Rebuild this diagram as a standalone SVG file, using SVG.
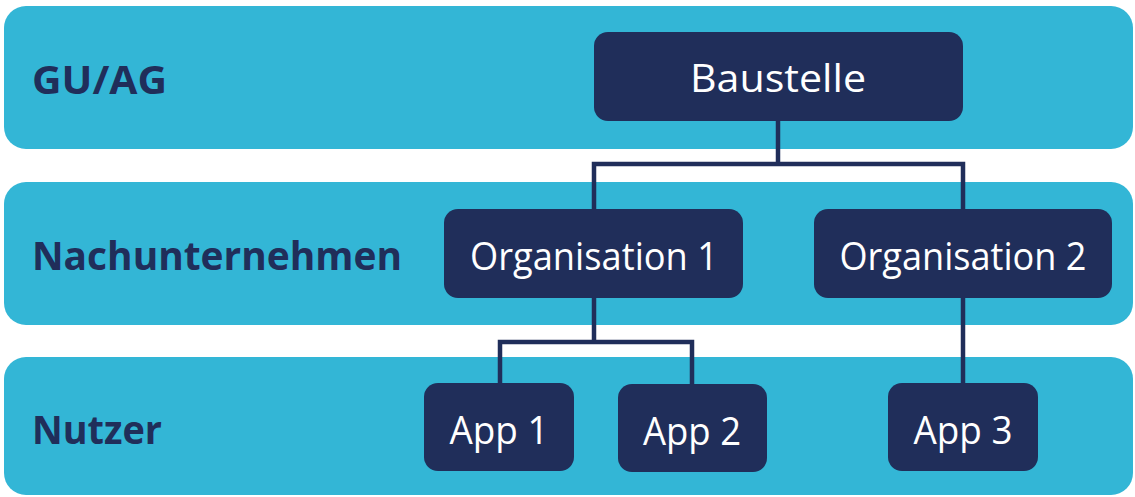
<svg xmlns="http://www.w3.org/2000/svg" width="1135" height="497" viewBox="0 0 1135 497">
<style>
.band{fill:#33b6d6}
.node{fill:#202e5a}
.lbl{font-family:"Open Sans","Liberation Sans",sans-serif;font-weight:bold;font-size:40px;fill:#202e5a}
.nt{font-family:"Open Sans","Liberation Sans",sans-serif;font-size:38px;fill:#ffffff;text-anchor:middle}
.conn{fill:none;stroke:#202e5a;stroke-width:4.5}
</style>
<rect width="1135" height="497" fill="#ffffff"/>
<g id="band-gu">
<rect class="band" x="4" y="6" width="1129" height="143" rx="22"/>
<text class="lbl" x="32" y="94" textLength="135" lengthAdjust="spacingAndGlyphs">GU/AG</text>
</g>
<g id="band-nu">
<rect class="band" x="4" y="182" width="1129" height="143" rx="22"/>
<text class="lbl" x="32" y="270" textLength="370" lengthAdjust="spacingAndGlyphs">Nachunternehmen</text>
</g>
<g id="band-nutzer">
<rect class="band" x="4" y="357" width="1129" height="138" rx="22"/>
<text class="lbl" x="32" y="444" textLength="130" lengthAdjust="spacingAndGlyphs">Nutzer</text>
</g>
<g id="connectors">
<polyline class="conn" points="778,121 778,164"/>
<polyline class="conn" points="594,209 594,164 963,164 963,209"/>
<polyline class="conn" points="594,298 594,342"/>
<polyline class="conn" points="500,383 500,342 692,342 692,384"/>
<polyline class="conn" points="963,298 963,383"/>
</g>
<g id="baustelle">
<rect class="node" x="594" y="32" width="369" height="89" rx="14"/>
<text class="nt" x="778" y="92" textLength="176" lengthAdjust="spacingAndGlyphs">Baustelle</text>
</g>
<g id="org1">
<rect class="node" x="444" y="209" width="299" height="89" rx="14"/>
<text class="nt" x="594" y="270" textLength="248" lengthAdjust="spacingAndGlyphs">Organisation 1</text>
</g>
<g id="org2">
<rect class="node" x="814" y="209" width="298" height="89" rx="14"/>
<text class="nt" x="963" y="270" textLength="247" lengthAdjust="spacingAndGlyphs">Organisation 2</text>
</g>
<g id="app1">
<rect class="node" x="424" y="383" width="150" height="88" rx="14"/>
<text class="nt" x="499" y="444" textLength="99" lengthAdjust="spacingAndGlyphs">App 1</text>
</g>
<g id="app2">
<rect class="node" x="618" y="384" width="149" height="88" rx="14"/>
<text class="nt" x="692" y="445" textLength="98" lengthAdjust="spacingAndGlyphs">App 2</text>
</g>
<g id="app3">
<rect class="node" x="888" y="383" width="150" height="88" rx="14"/>
<text class="nt" x="963" y="444" textLength="99" lengthAdjust="spacingAndGlyphs">App 3</text>
</g>
</svg>
